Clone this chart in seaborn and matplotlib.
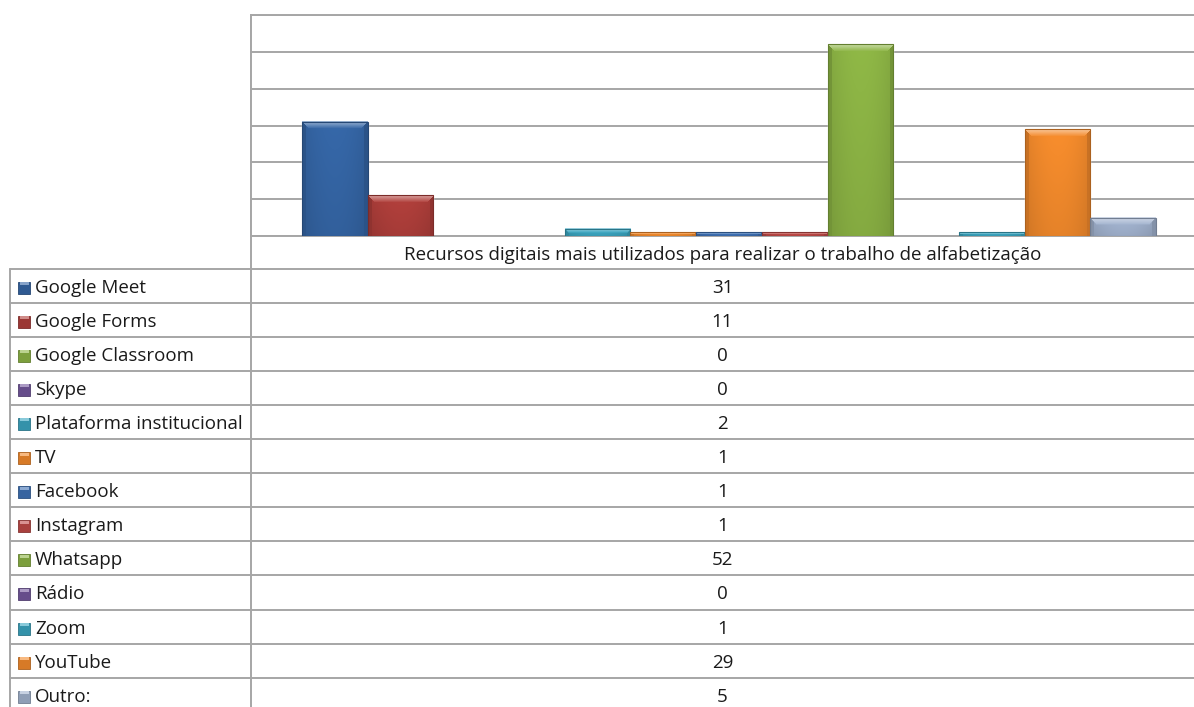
import numpy as np
import pandas as pd
import matplotlib
matplotlib.use("Agg")
import matplotlib.pyplot as plt
from matplotlib.patches import Rectangle
from matplotlib.lines import Line2D
import matplotlib.colors as mcolors
import seaborn as sns

# ---------------- data ----------------
series = ["Google Meet", "Google Forms", "Google Classroom", "Skype",
          "Plataforma institucional", "TV", "Facebook", "Instagram",
          "Whatsapp", "Rádio", "Zoom", "YouTube", "Outro:"]
values = [31, 11, 0, 0, 2, 1, 1, 1, 52, 0, 1, 29, 5]
category = "Recursos digitais mais utilizados para realizar o trabalho de alfabetização"
colors = ["#3566A6", "#B03F3B", "#8DB545", "#74589E", "#3BA6C1", "#F48B2C",
          "#3F72B6", "#C04A47", "#8DB545", "#74589E", "#3BA6C1", "#F48B2C",
          "#A2B3CF"]

W, H = 1194, 707
sns.set_theme(style="white")
plt.rcParams["font.family"] = ["Open Sans", "DejaVu Sans"]
FS = 13.5

fig = plt.figure(figsize=(W / 100, H / 100), dpi=100)

# overlay axes in pixel coordinates for the data table
ov = fig.add_axes([0, 0, 1, 1])
ov.set_xlim(0, W)
ov.set_ylim(H, 0)
ov.axis("off")

# chart axes: pixel 251..1194 horizontally, 15..236 vertically
px_left, px_right, px_top, px_bot = 251, 1194, 15, 236
ax = fig.add_axes([px_left / W, 1 - px_bot / H, (px_right - px_left) / W, (px_bot - px_top) / H])

df = pd.DataFrame({"serie": series, "valor": values})
sns.barplot(data=df, x="serie", y="valor", hue="serie", palette=colors,
            width=1.0, dodge=False, legend=False, ax=ax, saturation=1)

# bars occupy pixels 302..1156 -> data -0.5..12.5
ppu = (1156 - 302) / 13.0
xl = -0.5 - (302 - px_left) / ppu
xr = 12.5 + (px_right - 1156) / ppu
ax.set_xlim(xl, xr)
ax.set_ylim(0, 60)
ax.set_yticks(np.arange(0, 61, 10))
ax.set_yticklabels([])
ax.set_xticks([])
ax.set_xlabel("")
ax.set_ylabel("")
ax.yaxis.grid(True, color="#A6A6A6", linewidth=1.4)
ax.set_axisbelow(True)
for s in ["top", "left", "bottom"]:
    ax.spines[s].set_visible(True)
    ax.spines[s].set_color("#A6A6A6")
    ax.spines[s].set_linewidth(1.4)
ax.spines["right"].set_visible(False)

# bevel / gradient look for each bar
ppy = (px_bot - px_top) / 60.0
for patch, col in zip(ax.patches, colors):
    h = patch.get_height()
    if h <= 0:
        continue
    x0 = patch.get_x()
    w = patch.get_width()
    wp = max(int(round(w * ppu)), 2)
    hp = max(int(round(h * ppy)), 2)
    base = np.array(mcolors.to_rgb(col))
    img = np.zeros((hp, wp, 3))
    yy, xx = np.mgrid[0:hp, 0:wp]
    u = (xx + 0.5) / wp
    v = (yy + 0.5) / hp
    shade = 1.02 - 0.10 * np.abs(2 * u - 1) ** 2 - 0.08 * v
    b = min(7, hp / 2)
    dtop = yy
    dside = np.minimum(xx, wp - 1 - xx)
    img[:] = base * shade[..., None]
    top = (dtop < b) & (dtop <= dside)
    t = np.clip(1 - dtop / b, 0, 1)
    light = base + (1 - base) * 0.5 * t[..., None]
    img[top] = light[top]
    side = (dside < 4) & ~top
    img[side] = (base * 0.82)[None, :].repeat(side.sum(), 0)
    img = np.clip(img, 0, 1)
    ax.imshow(img, extent=(x0, x0 + w, 0, h), aspect="auto",
              interpolation="bilinear", zorder=3)
    patch.set_zorder(2)
    dark = tuple(base * 0.7)
    ax.add_patch(Rectangle((x0, 0), w, h, fill=False, edgecolor=dark,
                           linewidth=0.8, zorder=4))
ax.set_xlim(xl, xr)
ax.set_ylim(0, 60)

# ---------------- data table ----------------
lc = "#A6A6A6"
lw = 1.4
row0 = 268.5
rh = 34.1
n = len(series)
ov.add_line(Line2D([px_left, px_left], [px_top, H], color=lc, lw=lw))
ov.add_line(Line2D([10, W], [row0, row0], color=lc, lw=lw))
ov.add_line(Line2D([10, 10], [row0, H], color=lc, lw=lw))
ov.text((px_left + W) / 2, (px_bot + row0) / 2 + 2.5, category, ha="center",
        va="center", fontsize=FS, color="#1a1a1a")
for i, (name, val, col) in enumerate(zip(series, values, colors)):
    yt = row0 + i * rh
    yb = yt + rh
    if yb < H:
        ov.add_line(Line2D([10, W], [yb, yb], color=lc, lw=lw))
    yc = yt + rh / 2 + 2
    base = np.array(mcolors.to_rgb(col))
    ov.add_patch(Rectangle((18, yc - 6), 12, 12, facecolor=tuple(base * 0.88),
                           edgecolor=tuple(base * 0.7), linewidth=0.6))
    ov.add_patch(Rectangle((19.5, yc - 5.5), 9, 3,
                           facecolor=tuple(base + (1 - base) * 0.4),
                           edgecolor="none"))
    ov.text(35, yc, name, ha="left", va="center", fontsize=FS, color="#1a1a1a")
    ov.text((px_left + W) / 2, yc, str(val), ha="center", va="center",
            fontsize=FS, color="#1a1a1a")

fig.savefig("out.png", dpi=100)
